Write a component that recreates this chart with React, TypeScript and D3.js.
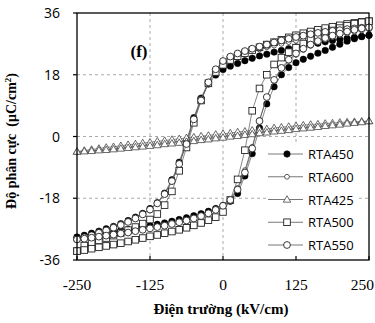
import React from "react";
import * as d3 from "d3";

// Electric field values (kV/cm), shared by every loop
const FIELD = [-250, -237.5, -225, -212.5, -200, -187.5, -175, -162.5, -150, -137.5, -125, -112.5, -100, -87.5, -75, -62.5, -50, -37.5, -25, -12.5, 0, 12.5, 25, 37.5, 50, 62.5, 75, 87.5, 100, 112.5, 125, 137.5, 150, 162.5, 175, 187.5, 200, 212.5, 225, 237.5, 250];

// Descending branch (from +250 to -250), listed in the FIELD order
const RTA450_DOWN = [-29.3, -28.8, -28.2, -27.6, -26.9, -26.2, -25.4, -24.5, -23.5, -22.4, -21.0, -19.3, -16.5, -12.6, -7.5, -1.2, 5.5, 11.2, 15.3, 17.9, 19.5, 20.5, 21.3, 22.1, 22.8, 23.5, 24.0, 24.6, 25.1, 25.6, 26.1, 26.5, 26.9, 27.2, 27.6, 28.0, 28.3, 28.6, 28.9, 29.2, 29.5];
const RTA450_UP = [-29.4, -29.1, -28.7, -28.4, -28.1, -27.8, -27.4, -27.1, -26.8, -26.4, -26.0, -25.6, -25.2, -24.7, -24.2, -23.7, -23.1, -22.5, -21.8, -21.0, -20.1, -18.9, -16.6, -11.5, -5.0, 2.5, 9.5, 14.5, 18.0, 20.1, 21.5, 22.5, 23.4, 24.3, 25.1, 26.0, 26.9, 27.8, 28.5, 29.1, 29.5];

const RTA600_DOWN = [-29.8, -29.2, -28.6, -27.9, -27.2, -26.5, -25.7, -24.8, -23.8, -22.6, -21.2, -19.4, -16.8, -13.2, -8.2, -1.8, 5.2, 11.0, 16.0, 19.6, 21.7, 22.8, 23.5, 24.2, 24.8, 25.4, 26.0, 26.5, 27.0, 27.5, 27.9, 28.4, 28.8, 29.2, 29.6, 29.9, 30.2, 30.5, 30.8, 31.0, 31.2];
const RTA600_UP = [-29.8, -29.6, -29.3, -29.0, -28.7, -28.4, -28.0, -27.7, -27.3, -26.9, -26.5, -26.1, -25.7, -25.2, -24.7, -24.2, -23.6, -22.9, -22.1, -21.1, -19.9, -18.2, -15.0, -9.8, -3.0, 4.8, 11.5, 16.2, 19.6, 22.0, 23.8, 25.2, 26.4, 27.4, 28.2, 28.9, 29.5, 30.0, 30.5, 30.9, 31.2];

const RTA425_DOWN = [-4.4, -4.1, -3.8, -3.5, -3.2, -3.0, -2.7, -2.4, -2.2, -1.9, -1.7, -1.4, -1.2, -0.9, -0.7, -0.4, -0.2, 0.1, 0.3, 0.6, 0.8, 1.0, 1.3, 1.5, 1.8, 2.0, 2.2, 2.5, 2.7, 2.9, 3.1, 3.3, 3.5, 3.6, 3.8, 3.9, 4.1, 4.2, 4.3, 4.4, 4.5];
const RTA425_UP = [-4.4, -4.3, -4.2, -4.0, -3.9, -3.7, -3.5, -3.3, -3.1, -2.9, -2.7, -2.5, -2.2, -2.0, -1.8, -1.5, -1.3, -1.0, -0.8, -0.5, -0.3, 0.0, 0.2, 0.5, 0.7, 1.0, 1.2, 1.5, 1.7, 1.9, 2.2, 2.4, 2.6, 2.8, 3.1, 3.3, 3.5, 3.8, 4.0, 4.2, 4.5];

const RTA500_DOWN = [-33.4, -31.8, -31.0, -30.3, -29.6, -28.9, -28.1, -27.3, -26.4, -25.4, -24.2, -22.6, -20.0, -16.0, -10.0, -3.2, 4.0, 10.5, 15.5, 18.8, 20.9, 22.3, 23.4, 24.3, 25.2, 26.0, 26.8, 27.5, 28.2, 28.9, 29.5, 30.1, 30.6, 31.1, 31.6, 32.0, 32.4, 32.8, 33.1, 33.4, 33.6];
const RTA500_UP = [-33.4, -33.1, -32.7, -32.3, -31.9, -31.5, -31.1, -30.6, -30.1, -29.6, -29.1, -28.7, -28.2, -27.7, -27.2, -26.6, -25.9, -25.2, -24.4, -23.5, -22.0, -18.5, -12.5, -4.0, 7.5, 14.0, 18.0, 21.0, 23.0, 24.6, 25.9, 27.1, 28.2, 29.2, 30.1, 30.9, 31.6, 32.3, 32.9, 33.3, 33.6];

const RTA550_DOWN = [-30.0, -29.4, -28.8, -28.1, -27.4, -26.6, -25.8, -24.9, -23.9, -22.7, -21.3, -19.5, -16.8, -13.0, -8.0, -2.2, 5.0, 10.5, 15.8, 19.6, 22.0, 23.3, 24.2, 24.9, 25.6, 26.2, 26.8, 27.4, 28.0, 28.5, 29.0, 29.4, 29.8, 30.2, 30.5, 30.8, 31.0, 31.3, 31.5, 31.7, 31.8];
const RTA550_UP = [-30.0, -29.8, -29.5, -29.2, -28.9, -28.6, -28.3, -28.0, -27.6, -27.2, -26.8, -26.4, -26.0, -25.5, -25.0, -24.5, -23.9, -23.2, -22.4, -21.4, -20.2, -18.5, -15.5, -10.5, -3.5, 4.5, 11.5, 16.5, 20.0, 22.4, 24.2, 25.6, 26.8, 27.8, 28.7, 29.4, 30.0, 30.6, 31.1, 31.5, 31.8];

const SERIES_NAMES = ["RTA450", "RTA600", "RTA425", "RTA500", "RTA550"];
const X_TICKS = [-250, -125, 0, 125, 250];
const Y_TICKS = [-36, -18, 0, 18, 36];
const X_GRID = [-125, 0, 125];
const Y_GRID = [-18, 0, 18];

const SERIES = [
  { name: SERIES_NAMES[0], down: RTA450_DOWN, up: RTA450_UP, marker: "filled" },
  { name: SERIES_NAMES[1], down: RTA600_DOWN, up: RTA600_UP, marker: "small" },
  { name: SERIES_NAMES[2], down: RTA425_DOWN, up: RTA425_UP, marker: "triangle" },
  { name: SERIES_NAMES[3], down: RTA500_DOWN, up: RTA500_UP, marker: "square" },
  { name: SERIES_NAMES[4], down: RTA550_DOWN, up: RTA550_UP, marker: "open" },
];

const W = 375;
const H = 323;
const L = 77, R = 369, T = 13, B = 260;

const x = d3.scaleLinear().domain([-250, 250]).range([L, R]);
const y = d3.scaleLinear().domain([-36, 36]).range([B, T]);

const tri = d3.symbol().type(d3.symbolTriangle).size(24)();

function Marker({ kind, cx, cy }: { kind: string; cx: number; cy: number }) {
  if (kind === "filled") return <circle cx={cx} cy={cy} r={3.2} fill="#000" stroke="#000" strokeWidth={0.6} />;
  if (kind === "small") return <circle cx={cx} cy={cy} r={2.4} fill="#fff" stroke="#333" strokeWidth={0.8} />;
  if (kind === "open") return <circle cx={cx} cy={cy} r={3.4} fill="#fff" stroke="#222" strokeWidth={0.9} />;
  if (kind === "square") return <rect x={cx - 3.3} y={cy - 3.3} width={6.6} height={6.6} fill="#fff" stroke="#222" strokeWidth={0.9} />;
  return <path d={tri as string} transform={`translate(${cx},${cy + 0.5})`} fill="#fff" stroke="#444" strokeWidth={0.8} />;
}

export default function App() {
  const line = d3.line<[number, number]>().x((d) => x(d[0])).y((d) => y(d[1]));
  const loops = SERIES.map((s) => {
    const down: [number, number][] = FIELD.map((e, i) => [e, s.down[i]] as [number, number]).reverse();
    const up: [number, number][] = FIELD.map((e, i) => [e, s.up[i]] as [number, number]);
    return { ...s, pts: [...down, ...up] };
  });
  const legendY = d3.scalePoint<string>().domain(SERIES_NAMES).range([154, 245]);

  return (
    <svg width={W} height={H} style={{ display: "block", position: "absolute", left: 0, top: 0, background: "#fff" }}>
      <rect x={0} y={0} width={W} height={H} fill="#fff" />
      {X_GRID.map((v) => (
        <line key={"gx" + v} x1={x(v)} x2={x(v)} y1={T} y2={B} stroke="#aaa" strokeWidth={1} strokeDasharray="3,3" />
      ))}
      {Y_GRID.map((v) => (
        <line key={"gy" + v} x1={L} x2={R} y1={y(v)} y2={y(v)} stroke="#aaa" strokeWidth={1} strokeDasharray="3,3" />
      ))}
      {loops.map((s) => (
        <g key={s.name}>
          <path d={line(s.pts) || ""} fill="none" stroke="#555" strokeWidth={0.7} />
          {s.pts.map((p, i) => (
            <Marker key={i} kind={s.marker} cx={x(p[0])} cy={y(p[1])} />
          ))}
        </g>
      ))}
      <rect x={L} y={T} width={R - L} height={B - T} fill="none" stroke="#000" strokeWidth={1.3} />
      {X_TICKS.map((v, i) => {
        const last = i === X_TICKS.length - 1;
        return (
          <g key={"xt" + v}>
            <line x1={x(v)} x2={x(v)} y1={B} y2={B - 4} stroke="#000" strokeWidth={1.2} />
            <text x={last ? 374 : x(v)} y={290} textAnchor={last ? "end" : "middle"} fontFamily="'Liberation Serif', 'Times New Roman', serif" fontSize={15.5} fill="#000">
              {v}
            </text>
          </g>
        );
      })}
      {Y_TICKS.map((v) => (
        <g key={"yt" + v}>
          <line x1={L - 4} x2={L} y1={y(v)} y2={y(v)} stroke="#000" strokeWidth={1.2} />
          <text x={60} y={y(v) + 5} textAnchor="end" fontFamily="'Open Sans', 'Noto Sans', sans-serif" fontSize={14} fill="#000">
            {v}
          </text>
        </g>
      ))}
      <text x={139} y={57} textAnchor="middle" fontFamily="'Liberation Serif', serif" fontWeight="bold" fontSize={17} fill="#000">
        (f)
      </text>
      <text x={221} y={314} textAnchor="middle" fontFamily="'Liberation Serif', serif" fontWeight="bold" fontSize={15} fill="#000">
        Điện trường (kV/cm)
      </text>
      <text transform={`translate(16,141) rotate(-90)`} textAnchor="middle" fontFamily="'Liberation Serif', serif" fontWeight="bold" fontSize={14} fill="#000">
        Độ phân cực{"\u00a0\u00a0"}(μC/cm<tspan dy={-5} fontSize={9}>2</tspan><tspan dy={5}>)</tspan>
      </text>
      <rect x={266} y={143} width={90} height={113} fill="#fff" />
      {loops.map((s) => {
        const ly = legendY(s.name) as number;
        return (
          <g key={"lg" + s.name}>
            <line x1={268} x2={303} y1={ly} y2={ly} stroke="#555" strokeWidth={0.8} />
            <Marker kind={s.marker} cx={287} cy={ly} />
            <text x={308} y={ly + 5} fontFamily="'Open Sans', 'Noto Sans', sans-serif" fontSize={13} fill="#000">
              {s.name}
            </text>
          </g>
        );
      })}
    </svg>
  );
}
